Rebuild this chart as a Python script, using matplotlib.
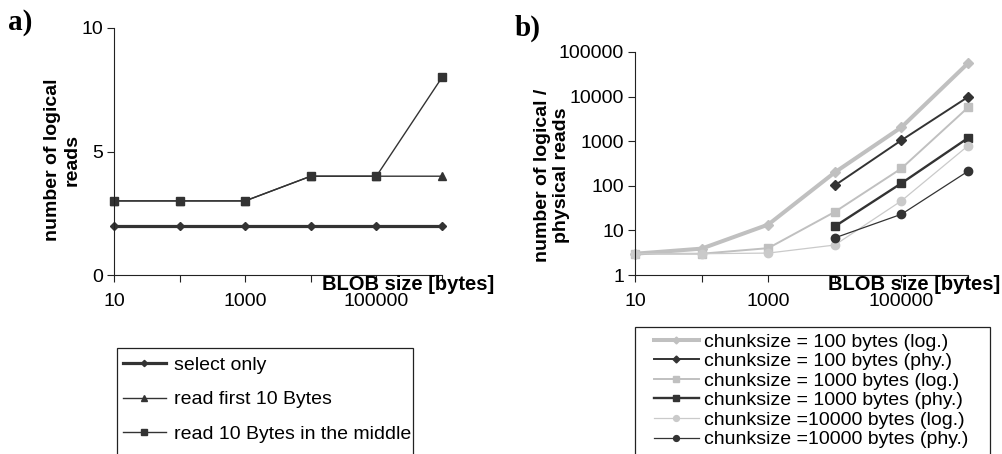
import matplotlib.pyplot as plt
from matplotlib.patches import Rectangle
from matplotlib.ticker import FixedLocator, NullLocator, FixedFormatter

plt.rcParams['font.family'] = ['Liberation Sans', 'DejaVu Sans']

# data
blob_sizes = [10, 100, 1000, 10000, 100000, 1000000]
big_sizes = [10000, 100000, 1000000]

select_only = [2, 2, 2, 2, 2, 2]
read_first = [3, 3, 3, 4, 4, 4]
read_middle = [3, 3, 3, 4, 4, 8]

c100_log = [3, 3.9, 13.5, 200, 2050, 56000]
c100_phy = [102, 1050, 9800]
c1000_log = [3, 3, 4, 26, 245, 5700]
c1000_phy = [12.3, 114, 1180]
c10000_log = [3, 3, 3.1, 4.7, 46, 790]
c10000_phy = [6.8, 23, 212]

x_labels = ['10', '', '1000', '', '100000', '']
y_log_ticks = [1, 10, 100, 1000, 10000, 100000]

dark = '#333333'
light = '#c0c0c0'
lighter = '#cacaca'

W, H = 1002, 454
fig = plt.figure(figsize=(W / 100, H / 100), dpi=100)


def fx(px):
    return px / W


def fy(py):
    return 1 - py / H


# ---- panel a ----
ax1 = fig.add_axes([fx(114), fy(275), fx(328), 247 / H])
ax1.plot(blob_sizes, select_only, color=dark, lw=2.3, marker='D', ms=4,
         label='select only')
ax1.plot(blob_sizes, read_first, color=dark, lw=1, marker='^', ms=6,
         label='read first 10 Bytes')
ax1.plot(blob_sizes, read_middle, color=dark, lw=1, marker='s', ms=5.5,
         label='read 10 Bytes in the middle')
ax1.set_ylim(0, 10)
ax1.set_yticks([0, 5, 10])

# ---- panel b ----
ax2 = fig.add_axes([fx(635), fy(275), fx(333), 223 / H])
ax2.plot(blob_sizes, c100_log, color=light, lw=2.9, marker='D', ms=5,
         label='chunksize = 100 bytes (log.)')
ax2.plot(big_sizes, c100_phy, color=dark, lw=1.4, marker='D', ms=5,
         label='chunksize = 100 bytes (phy.)')
ax2.plot(blob_sizes, c1000_log, color=light, lw=1.4, marker='s', ms=6,
         label='chunksize = 1000 bytes (log.)')
ax2.plot(big_sizes, c1000_phy, color=dark, lw=1.7, marker='s', ms=6,
         label='chunksize = 1000 bytes (phy.)')
ax2.plot(blob_sizes, c10000_log, color=lighter, lw=0.9, marker='o', ms=6,
         label='chunksize =10000 bytes (log.)')
ax2.plot(big_sizes, c10000_phy, color=dark, lw=0.9, marker='o', ms=6,
         label='chunksize =10000 bytes (phy.)')
ax2.set_yscale('log')
ax2.set_ylim(1, 100000)
ax2.yaxis.set_major_locator(FixedLocator(y_log_ticks))
ax2.yaxis.set_major_formatter(FixedFormatter([str(v) for v in y_log_ticks]))
ax2.yaxis.set_minor_locator(NullLocator())

for ax in (ax1, ax2):
    ax.set_xscale('log')
    ax.set_xlim(10, 1000000)
    ax.xaxis.set_major_locator(FixedLocator(blob_sizes))
    ax.xaxis.set_major_formatter(FixedFormatter(x_labels))
    ax.xaxis.set_minor_locator(NullLocator())
    ax.spines['top'].set_visible(False)
    ax.spines['right'].set_visible(False)
    ax.spines['left'].set_color('#222222')
    ax.spines['bottom'].set_color('#222222')
    ax.tick_params(labelsize=14, length=5, width=0.8, colors='#222222',
                   labelcolor='black')
    ax.tick_params(axis='x', pad=8)
    ax.tick_params(axis='y', pad=3)
    for m in ax.get_lines():
        m.set_clip_on(False)

# axis titles
fig.text(fx(62), fy(160), 'number of logical\nreads', fontsize=14,
         fontweight='bold', rotation=90, ha='center', va='center',
         multialignment='center')
fig.text(fx(552), fy(175), 'number of logical /\nphysical reads', fontsize=14,
         fontweight='bold', rotation=90, ha='center', va='center',
         multialignment='center')
fig.text(fx(494), fy(285), 'BLOB size [bytes]', fontsize=14.5,
         fontweight='bold', va='center', ha='right')
fig.text(fx(1000), fy(285), 'BLOB size [bytes]', fontsize=14.5,
         fontweight='bold', va='center', ha='right')

fig.text(fx(8), fy(22), 'a)', fontsize=21, fontweight='bold',
         family='Liberation Serif', va='center')
fig.text(fx(515), fy(28), 'b)', fontsize=21, fontweight='bold',
         family='Liberation Serif', va='center')

# legends (frame drawn separately, it runs off the bottom edge)
leg1 = ax1.legend(loc='upper left', bbox_to_anchor=(fx(123), fy(356)),
                  bbox_transform=fig.transFigure, fontsize=14, frameon=False,
                  handlelength=2.2, handletextpad=0.4, labelspacing=0.88,
                  borderpad=0, borderaxespad=0, markerscale=0.8)
fig.patches.append(Rectangle((fx(117), fy(460)), fx(413 - 117), 112 / H,
                             transform=fig.transFigure, fill=False,
                             edgecolor='#222222', lw=0.9))

leg2 = ax2.legend(loc='upper left', bbox_to_anchor=(fx(654), fy(333)),
                  bbox_transform=fig.transFigure, fontsize=14, frameon=False,
                  handlelength=2.3, handletextpad=0.25, labelspacing=0.1,
                  borderpad=0, borderaxespad=0, markerscale=0.7)
fig.patches.append(Rectangle((fx(635), fy(460)), fx(990 - 635), 133 / H,
                             transform=fig.transFigure, fill=False,
                             edgecolor='#222222', lw=0.9))

fig.savefig('out.png', dpi=100)
